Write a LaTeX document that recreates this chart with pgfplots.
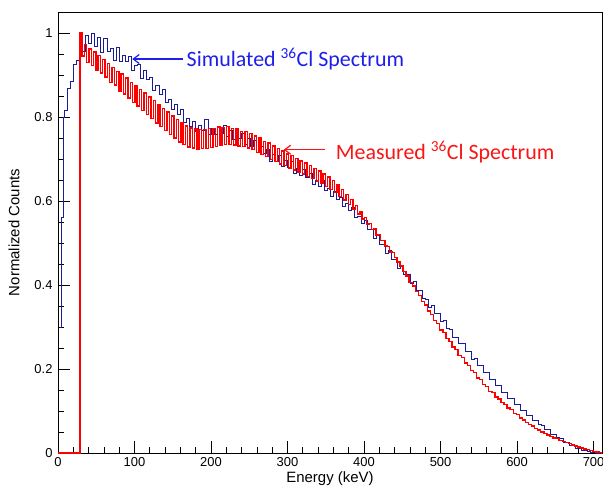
\documentclass[border=0pt]{standalone}
\usepackage{pgfplots}
\pgfplotsset{compat=1.18}
\usepackage{pgfplotstable}
\usepackage{fontspec}
\setmainfont{Liberation Sans}
\newfontfamily\calibri{Carlito}
\usetikzlibrary{arrows.meta}
\definecolor{simblue}{RGB}{28,28,150}
\definecolor{measred}{RGB}{255,0,0}
\definecolor{txtblue}{RGB}{30,30,235}
\definecolor{txtred}{RGB}{250,20,20}

\pgfplotstableread{
x y
3 0.300
5 0.560
6.5 0.800
8 0.815
12 0.868
16 0.885
20 0.926
24 0.934
28 0.967
32 0.955
36 0.995
40 0.975
44 1.000
48 0.967
52 0.990
56 0.954
60 0.988
64 0.956
68 0.963
72 0.935
76 0.965
80 0.933
84 0.947
88 0.932
92 0.944
96 0.912
100 0.923
104 0.926
108 0.892
112 0.910
116 0.889
120 0.895
124 0.864
128 0.876
132 0.853
136 0.865
140 0.835
144 0.841
148 0.817
152 0.831
156 0.807
160 0.818
164 0.788
168 0.797
172 0.777
176 0.790
180 0.765
184 0.780
188 0.767
192 0.793
196 0.758
200 0.773
204 0.759
208 0.777
212 0.762
216 0.779
220 0.753
224 0.767
228 0.746
232 0.767
236 0.750
240 0.762
244 0.734
248 0.748
252 0.730
256 0.745
260 0.716
264 0.730
268 0.714
272 0.723
276 0.695
280 0.712
284 0.694
288 0.708
292 0.683
296 0.696
300 0.681
304 0.693
308 0.666
312 0.678
316 0.661
320 0.674
324 0.655
328 0.666
332 0.640
336 0.650
340 0.635
344 0.648
348 0.625
352 0.630
356 0.610
360 0.623
364 0.604
368 0.609
372 0.586
376 0.595
380 0.577
384 0.584
388 0.560
392 0.564
396 0.546
400 0.553
404 0.532
408 0.533
412 0.511
416 0.517
420 0.497
424 0.497
428 0.476
432 0.483
436 0.460
440 0.460
444 0.440
448 0.444
452 0.425
456 0.424
460 0.404
464 0.408
468 0.387
472 0.387
476 0.367
480 0.366
484 0.347
488 0.351
492 0.333
496 0.332
500 0.313
504 0.315
508 0.296
512 0.295
516 0.275
520 0.276
524 0.260
528 0.260
532 0.242
536 0.242
540 0.223
544 0.224
548 0.209
552 0.208
556 0.191
560 0.191
564 0.175
568 0.174
572 0.160
576 0.160
580 0.145
584 0.145
588 0.130
592 0.129
596 0.116
600 0.116
604 0.102
608 0.102
612 0.090
616 0.089
620 0.077
624 0.077
628 0.067
632 0.066
636 0.055
640 0.055
644 0.045
648 0.044
652 0.036
656 0.035
660 0.026
664 0.026
668 0.019
672 0.018
676 0.012
680 0.011
684 0.007
688 0.006
692 0.003
696 0.002
700 0.001
704 0.000
708 0.000
}\simulated

\pgfplotstableread{
x y
0 0
28.5 1.000
31.5 0.945
34.5 0.972
37.5 0.930
40.5 0.962
43.5 0.922
46.5 0.955
49.5 0.912
52.5 0.946
55.5 0.905
58.5 0.937
61.5 0.895
64.5 0.928
67.5 0.882
70.5 0.918
73.5 0.876
76.5 0.909
79.5 0.862
82.5 0.902
85.5 0.855
88.5 0.893
91.5 0.845
94.5 0.882
97.5 0.835
100.5 0.874
103.5 0.826
106.5 0.866
109.5 0.815
112.5 0.857
115.5 0.806
118.5 0.848
121.5 0.797
124.5 0.839
127.5 0.786
130.5 0.830
133.5 0.777
136.5 0.820
139.5 0.768
142.5 0.812
145.5 0.758
148.5 0.802
151.5 0.750
154.5 0.794
157.5 0.740
160.5 0.786
163.5 0.735
166.5 0.779
169.5 0.729
172.5 0.774
175.5 0.726
178.5 0.771
181.5 0.724
184.5 0.770
187.5 0.725
190.5 0.770
193.5 0.725
196.5 0.772
199.5 0.727
202.5 0.773
205.5 0.730
208.5 0.776
211.5 0.733
214.5 0.775
217.5 0.735
220.5 0.778
223.5 0.735
226.5 0.772
229.5 0.733
232.5 0.771
235.5 0.731
238.5 0.766
241.5 0.730
244.5 0.765
247.5 0.726
250.5 0.760
253.5 0.722
256.5 0.755
259.5 0.716
262.5 0.750
265.5 0.711
268.5 0.742
271.5 0.706
274.5 0.738
277.5 0.699
280.5 0.731
283.5 0.694
286.5 0.725
289.5 0.688
292.5 0.719
295.5 0.684
298.5 0.712
301.5 0.679
304.5 0.708
307.5 0.674
310.5 0.701
313.5 0.669
316.5 0.695
319.5 0.664
322.5 0.690
325.5 0.659
328.5 0.684
331.5 0.654
334.5 0.678
337.5 0.648
340.5 0.671
343.5 0.642
346.5 0.664
349.5 0.635
352.5 0.657
355.5 0.628
358.5 0.649
361.5 0.620
364.5 0.638
367.5 0.611
370.5 0.627
373.5 0.602
376.5 0.615
379.5 0.591
382.5 0.603
385.5 0.580
388.5 0.589
391.5 0.569
394.5 0.575
397.5 0.557
400.5 0.561
403.5 0.545
406.5 0.547
409.5 0.532
412.5 0.533
415.5 0.519
418.5 0.520
421.5 0.506
424.5 0.506
427.5 0.493
430.5 0.492
433.5 0.479
436.5 0.478
439.5 0.465
443 0.455
447 0.445
451 0.432
455 0.421
459 0.406
463 0.398
467 0.384
471 0.375
475 0.360
479 0.352
483 0.338
487 0.330
491 0.316
495 0.308
499 0.293
503 0.287
507 0.273
511 0.266
515 0.252
519 0.246
523 0.232
527 0.227
531 0.214
535 0.209
539 0.196
543 0.191
547 0.179
551 0.175
555 0.163
559 0.159
563 0.147
567 0.144
571 0.133
575 0.129
579 0.120
583 0.116
587 0.107
591 0.103
595 0.094
599 0.091
603 0.083
607 0.079
611 0.073
615 0.068
619 0.064
623 0.059
627 0.055
631 0.050
635 0.047
639 0.043
643 0.040
647 0.036
651 0.034
655 0.030
659 0.028
663 0.025
667 0.022
671 0.019
675 0.017
679 0.014
683 0.012
687 0.010
691 0.008
695 0.006
699 0.004
703 0.002
707 0.001
711 0.000
}\measured

\begin{document}
\begin{tikzpicture}
\path[use as bounding box] (-58bp,-42bp) rectangle (545bp,453bp);
\begin{axis}[
  at={(0,0)}, anchor=south west,
  width=544bp, height=441bp, scale only axis,
  xmin=0, xmax=711, ymin=0, ymax=1.05,
  axis line style={black, line width=0.8bp},
  xtick={0,100,200,300,400,500,600,700},
  ytick={0,0.2,0.4,0.6,0.8,1},
  minor x tick num=4, minor y tick num=3,
  tick align=inside, tick pos=left,
  major tick length=12bp, minor tick length=6bp,
  tick style={black, line width=0.7bp},
  /pgf/number format/assume math mode=true,
  /pgf/number format/fixed, /pgf/number format/precision=1,
  ticklabel style={font=\fontsize{13}{15}\selectfont},
  xticklabel style={yshift=-1bp},
  yticklabel style={xshift=-2bp},
  label style={font=\fontsize{15}{17}\selectfont},
  xlabel={Energy (keV)},
  ylabel={Normalized Counts},
  xlabel style={at={(axis description cs:0.5,-0.057)}, anchor=center},
  ylabel style={at={(axis description cs:-0.081,0.5)}, anchor=center},
]
\addplot[const plot, color=simblue, line width=0.9bp] table[x=x,y=y] {\simulated};
\addplot[const plot, color=measred, line width=1.4bp] table[x=x,y=y] {\measured};

\draw[txtblue, line width=1.2bp, -{Straight Barb[length=6bp,width=9bp]}] (axis cs:163,0.938) -- (axis cs:97,0.938);
\node[anchor=west, inner sep=0pt, text=txtblue, font=\calibri\fontsize{22}{24}\selectfont] at (axis cs:168,0.938) {Simulated \textsuperscript{36}Cl Spectrum};
\draw[txtred, line width=1.2bp, -{Straight Barb[length=6bp,width=9bp]}] (axis cs:349,0.722) -- (axis cs:295,0.722);
\node[anchor=west, inner sep=0pt, text=txtred, font=\calibri\fontsize{22}{24}\selectfont] at (axis cs:363,0.716) {Measured \textsuperscript{36}Cl Spectrum};
\end{axis}
\end{tikzpicture}
\end{document}
